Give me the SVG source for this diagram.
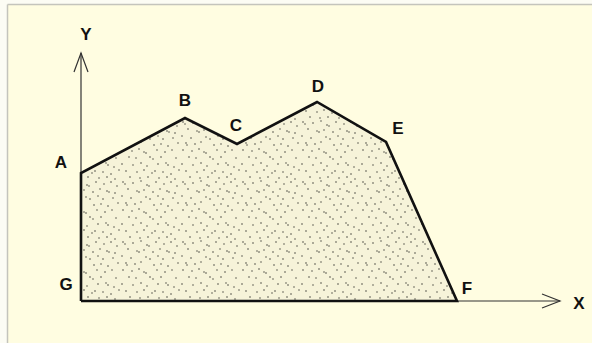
<svg xmlns="http://www.w3.org/2000/svg" width="592" height="343" viewBox="0 0 592 343">
<defs>
<pattern id="stipple" width="60" height="60" patternUnits="userSpaceOnUse">
<rect width="60" height="60" fill="#f6f3d9"/>
<g fill="#3a3a34">
<circle cx="3" cy="2" r="0.75"/><circle cx="5" cy="4" r="0.7"/><circle cx="13" cy="3" r="0.75"/><circle cx="21" cy="1" r="0.7"/>
<circle cx="27" cy="5" r="0.75"/><circle cx="29" cy="6" r="0.7"/><circle cx="36" cy="2" r="0.75"/><circle cx="44" cy="4" r="0.7"/>
<circle cx="51" cy="2" r="0.75"/><circle cx="57" cy="6" r="0.7"/><circle cx="8" cy="9" r="0.75"/><circle cx="17" cy="11" r="0.7"/>
<circle cx="19" cy="12" r="0.75"/><circle cx="24" cy="10" r="0.7"/><circle cx="33" cy="12" r="0.75"/><circle cx="40" cy="9" r="0.7"/>
<circle cx="47" cy="11" r="0.75"/><circle cx="49" cy="12" r="0.7"/><circle cx="55" cy="13" r="0.75"/><circle cx="2" cy="16" r="0.7"/>
<circle cx="11" cy="18" r="0.75"/><circle cx="26" cy="17" r="0.7"/><circle cx="30" cy="19" r="0.75"/><circle cx="38" cy="16" r="0.7"/>
<circle cx="43" cy="19" r="0.75"/><circle cx="53" cy="18" r="0.7"/><circle cx="6" cy="23" r="0.75"/><circle cx="7" cy="25" r="0.7"/>
<circle cx="15" cy="24" r="0.75"/><circle cx="21" cy="22" r="0.7"/><circle cx="34" cy="25" r="0.75"/><circle cx="41" cy="24" r="0.7"/>
<circle cx="48" cy="26" r="0.75"/><circle cx="58" cy="23" r="0.7"/><circle cx="3" cy="30" r="0.75"/><circle cx="12" cy="31" r="0.7"/>
<circle cx="19" cy="29" r="0.75"/><circle cx="24" cy="32" r="0.7"/><circle cx="26" cy="33" r="0.75"/><circle cx="37" cy="30" r="0.7"/>
<circle cx="45" cy="32" r="0.75"/><circle cx="52" cy="30" r="0.7"/><circle cx="9" cy="37" r="0.75"/><circle cx="16" cy="38" r="0.7"/>
<circle cx="30" cy="37" r="0.75"/><circle cx="33" cy="39" r="0.7"/><circle cx="41" cy="37" r="0.75"/><circle cx="56" cy="38" r="0.7"/>
<circle cx="2" cy="44" r="0.75"/><circle cx="13" cy="45" r="0.7"/><circle cx="21" cy="43" r="0.75"/><circle cx="27" cy="46" r="0.7"/>
<circle cx="38" cy="44" r="0.75"/><circle cx="46" cy="43" r="0.7"/><circle cx="48" cy="45" r="0.75"/><circle cx="54" cy="47" r="0.7"/>
<circle cx="6" cy="51" r="0.75"/><circle cx="17" cy="52" r="0.7"/><circle cx="24" cy="50" r="0.75"/><circle cx="32" cy="53" r="0.7"/>
<circle cx="35" cy="51" r="0.75"/><circle cx="43" cy="52" r="0.7"/><circle cx="51" cy="54" r="0.75"/><circle cx="59" cy="50" r="0.7"/>
<circle cx="10" cy="57" r="0.75"/><circle cx="20" cy="58" r="0.7"/><circle cx="28" cy="57" r="0.75"/><circle cx="39" cy="58" r="0.7"/>
<circle cx="47" cy="57" r="0.75"/><circle cx="55" cy="59" r="0.7"/>
</g>
</pattern>
<style>
.lbl{font-family:"Liberation Sans",Arial,sans-serif;font-size:17px;font-weight:bold;fill:#111;text-anchor:middle}
.axis{stroke:#333;stroke-width:1.2;fill:none}
.edge{stroke:#111;stroke-width:2.6;fill:none;stroke-linejoin:miter}
</style>
</defs>
<rect width="592" height="343" fill="#fcfcf4"/>
<rect x="8" y="5" width="584" height="338" fill="#fffde1"/>
<line x1="7.5" y1="4.5" x2="7.5" y2="343" stroke="#c4c4bc" stroke-width="1.5"/>
<line x1="7.5" y1="4.5" x2="592" y2="4.5" stroke="#c4c4bc" stroke-width="1.5"/>
<g id="area">
<polygon points="81,173 185,118 237,144 317,102 386,142 457,301 81,301" fill="url(#stipple)"/>
</g>
<g id="connectors">
<line class="axis" x1="81" y1="301" x2="81" y2="53"/>
<polyline class="axis" points="74,72 81,53 88,72"/>
<line class="axis" x1="457" y1="301" x2="560" y2="301"/>
<polyline class="axis" points="542,294 560,301 542,308"/>
<polyline class="edge" points="81,301 81,173 185,118 237,144 317,102 386,142 457,301 81,301"/>
</g>
<g id="labels">
<g id="Y"><text class="lbl" x="86" y="40">Y</text></g>
<g id="A"><text class="lbl" x="61" y="168">A</text></g>
<g id="B"><text class="lbl" x="185" y="106">B</text></g>
<g id="C"><text class="lbl" x="236" y="131">C</text></g>
<g id="D"><text class="lbl" x="318" y="92">D</text></g>
<g id="E"><text class="lbl" x="398" y="134">E</text></g>
<g id="F"><text class="lbl" x="467" y="294">F</text></g>
<g id="G"><text class="lbl" x="66" y="290">G</text></g>
<g id="X"><text class="lbl" x="579" y="309">X</text></g>
</g>
</svg>
